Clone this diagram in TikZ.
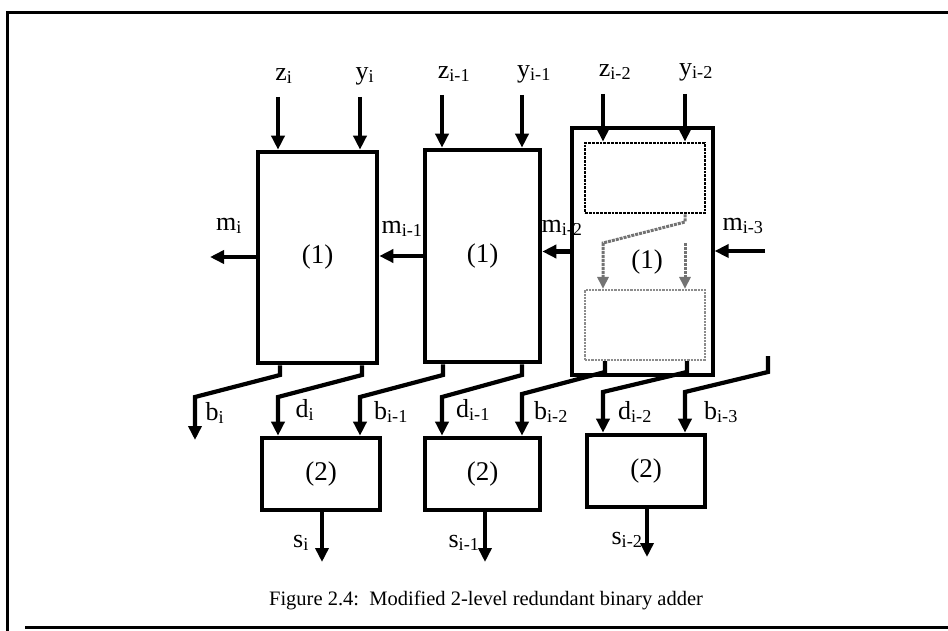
\documentclass[tikz,border=0pt]{standalone}
\usepackage{fontspec}
\setmainfont{Liberation Serif}
\usetikzlibrary{arrows.meta,calc}
\begin{document}
\begin{tikzpicture}[x=1pt,y=-1pt,
  blk/.style={draw,line width=4.6pt,inner sep=0pt,font=\fontsize{27}{30}\selectfont},
  arr/.style={line width=4.2pt,-{Triangle[length=14pt,width=13pt]}},
  lbl/.style={inner sep=0pt,font=\fontsize{26}{30}\selectfont},
  inner1/.style={draw,densely dotted,line width=2.8pt,inner sep=0pt},
  inner2/.style={draw=black!45,densely dotted,line width=2.2pt,inner sep=0pt},
  ghost/.style={draw=black!55,densely dotted,line width=3pt,-{Triangle[length=12pt,width=11pt]}}]
\useasboundingbox (0,0) rectangle (948,631);
% frame
\draw[line width=3pt] (948,13) -- (7,13) -- (7,631);
\draw[line width=3pt] (25,627) -- (948,627);
% level-1 blocks
\node[blk,minimum width=119pt,minimum height=211pt] (A1) at (317.5,257.5) {(1)};
\node[blk,minimum width=115pt,minimum height=212pt] (A2) at (482.5,256) {(1)};
\node[draw,line width=3.2pt,minimum width=141pt,minimum height=247pt,inner sep=0pt] (A3) at (642.5,251.5) {};
\node[inner1,minimum width=120pt,minimum height=70pt] (T) at (645,178) {};
\node[inner2,minimum width=120pt,minimum height=70pt] (B) at (645,325) {};
\node[inner sep=0pt,font=\fontsize{27}{30}\selectfont] (L3) at (647,262) {(1)};
% level-2 blocks
\node[blk,minimum width=118pt,minimum height=72pt] (C1) at (321,474) {(2)};
\node[blk,minimum width=115pt,minimum height=72pt] (C2) at (482.5,474) {(2)};
\node[blk,minimum width=118pt,minimum height=72pt] (C3) at (646,471) {(2)};
% inputs
\coordinate (zi) at (278,97);
\coordinate (yi) at (360,97);
\coordinate (zi1) at (442,95);
\coordinate (yi1) at (522,95);
\coordinate (zi2) at (603,94);
\coordinate (yi2) at (685,94);
\draw[arr] (zi) -- (zi |- A1.north);
\draw[arr] (yi) -- (yi |- A1.north);
\draw[arr] (zi1) -- (zi1 |- A2.north);
\draw[arr] (yi1) -- (yi1 |- A2.north);
\draw[arr] (zi2) -- (zi2 |- T.north);
\draw[arr] (yi2) -- (yi2 |- T.north);
\node[lbl] (lzi) at (284,76) {z\textsubscript{i}};
\node[lbl] (lyi) at (365,76) {y\textsubscript{i}};
\node[lbl] (lzi1) at (454,74) {z\textsubscript{i-1}};
\node[lbl] (lyi1) at (534,74) {y\textsubscript{i-1}};
\node[lbl] (lzi2) at (615,72) {z\textsubscript{i-2}};
\node[lbl] (lyi2) at (696,72) {y\textsubscript{i-2}};
% m signals
\coordinate (mi) at (210,257);
\coordinate (mi3) at (765,251);
\draw[arr] (A1.west |- mi) -- (mi);
\draw[arr] (A2.west) -- (A2.west -| A1.east);
\draw[arr] (A3.west) -- (A3.west -| A2.east);
\draw[arr] (mi3) -- (mi3 -| A3.east);
\node[lbl] (lmi) at (229,226) {m\textsubscript{i}};
\node[lbl] (lmi1) at (402,229) {m\textsubscript{i-1}};
\node[lbl] (lmi2) at (562,228) {m\textsubscript{i-2}};
\node[lbl] (lmi3) at (743,226) {m\textsubscript{i-3}};
% internal (ghost) paths in block 3
\draw[ghost] (T.south -| 685,0) -- (685,222) -- (603,243) -- (B.north -| 603,0);
\coordinate (g2) at (685,243);
\draw[ghost] (g2) -- (B.north -| g2);
% level-1 to level-2 wiring
\coordinate (bi) at (195,440);
\draw[arr] (A1.south -| 280,0) -- (280,375) -- (195,397) -- (bi);
\draw[arr] (A1.south -| 362,0) -- (362,375) -- (278,397) -- (C1.north -| 278,0);
\draw[arr] (A2.south -| 443,0) -- (443,375) -- (360,397) -- (C1.north -| 360,0);
\draw[arr] (A2.south -| 522,0) -- (522,375) -- (442,397) -- (C2.north -| 442,0);
\draw[arr] (B.south -| 605,0) -- (605,372) -- (522,394) -- (C2.north -| 522,0);
\draw[arr] (B.south -| 687,0) -- (687,372) -- (603,392) -- (C3.north -| 603,0);
\coordinate (b3) at (768,356);
\draw[arr] (b3) -- (768,372) -- (685,392) -- (C3.north -| 685,0);
\node[lbl] (lbi) at (215,413) {b\textsubscript{i}};
\node[lbl] (ldi) at (305,410) {d\textsubscript{i}};
\node[lbl] (lbi1) at (391,412) {b\textsubscript{i-1}};
\node[lbl] (ldi1) at (473,410) {d\textsubscript{i-1}};
\node[lbl] (lbi2) at (551,412) {b\textsubscript{i-2}};
\node[lbl] (ldi2) at (635,412) {d\textsubscript{i-2}};
\node[lbl] (lbi3) at (721,412) {b\textsubscript{i-3}};
% sums
\coordinate (si) at (322,562);
\coordinate (si1) at (485,562);
\coordinate (si2) at (647,557);
\draw[arr] (C1.south -| si) -- (si);
\draw[arr] (C2.south -| si1) -- (si1);
\draw[arr] (C3.south -| si2) -- (si2);
\node[lbl] (lsi) at (301,543) {s\textsubscript{i}};
\node[lbl] (lsi1) at (464,543) {s\textsubscript{i-1}};
\node[lbl] (lsi2) at (627,540) {s\textsubscript{i-2}};
% caption
\node[inner sep=0pt,font=\fontsize{20.5}{24}\selectfont] (cap) at (486,600) {Figure 2.4:\ \ Modified 2-level redundant binary adder};
\end{tikzpicture}
\end{document}
